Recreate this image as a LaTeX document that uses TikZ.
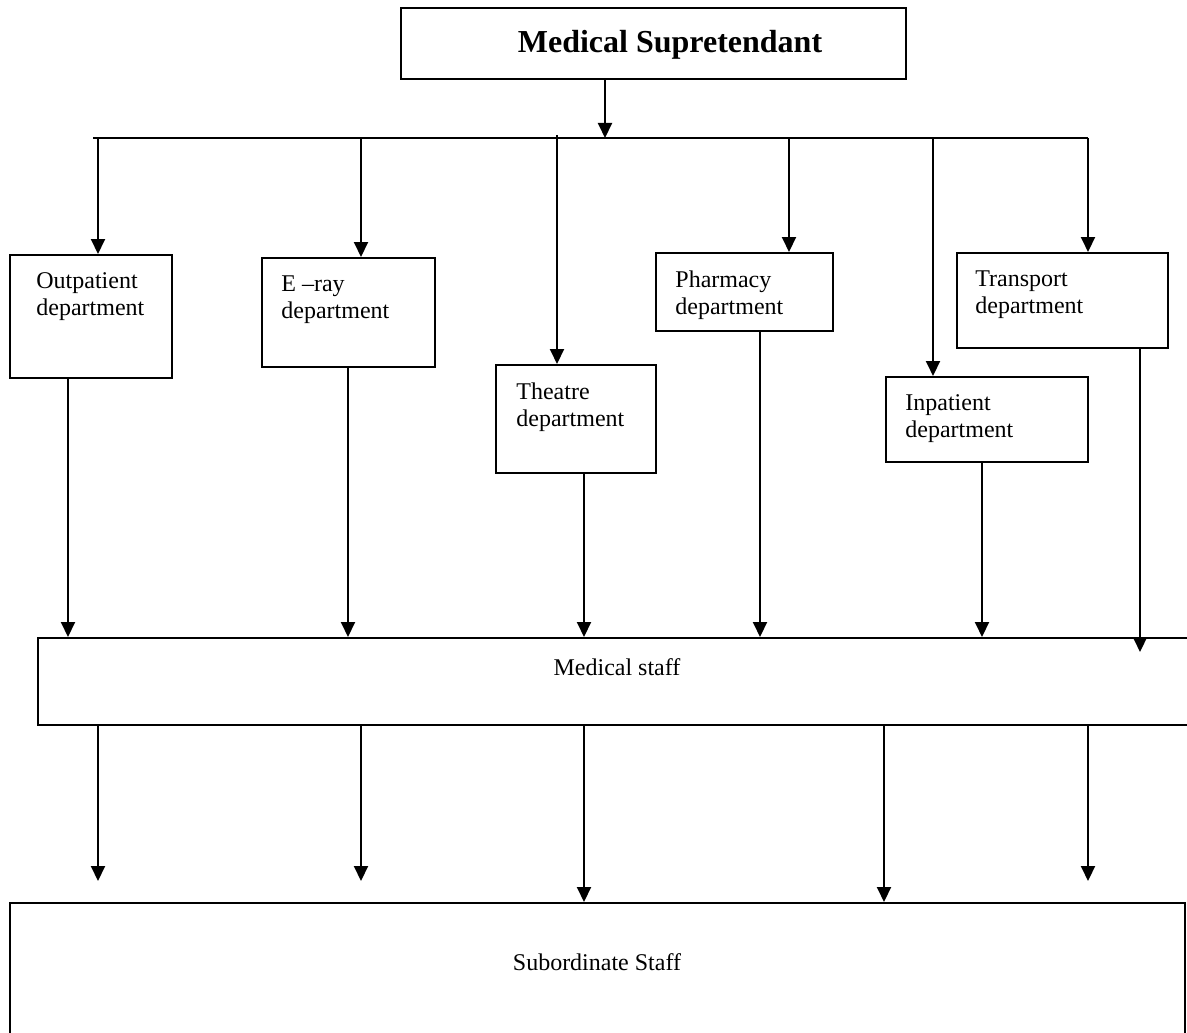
\documentclass[tikz,border=0pt]{standalone}
\usepackage{fontspec}
\setmainfont{Liberation Serif}
\usetikzlibrary{positioning,arrows.meta}

\begin{document}
\begin{tikzpicture}[x=0.5pt,y=-0.5pt]

\tikzstyle{blockbox}=[draw, line width=1pt, inner sep=0pt]
\tikzstyle{texto}=[anchor=north west, inner sep=0pt, align=left, font=\fontsize{12}{13.5}\selectfont]
\tikzstyle{plain}=[inner sep=0pt, font=\fontsize{12}{13.5}\selectfont]
\tikzstyle{link}=[line width=1pt, -{Triangle[length=7.5pt,width=7pt]}]

% box with its label in the upper left corner
\newcommand{\deptbox}[7]{%
\path (#2,#3) node (#1) [blockbox, minimum width=#4*0.5pt, minimum height=#5*0.5pt] {};
\path (#1.north west) + (#6,18) node (#1t) [texto] {#7};}

\useasboundingbox (0,0) rectangle (1187,1032);

\path (653.5,43.5) node (ms) [blockbox, minimum width=252.5pt, minimum height=35.5pt] {};
\path (670,45) node (mst) [inner sep=0pt] {\fontsize{16}{19}\selectfont\bfseries Medical Supretendant};

\deptbox{op}{91}{316.5}{162}{123}{27}{Outpatient\\department}
\deptbox{xr}{348.5}{312.5}{173}{109}{20}{E –ray\\department}
\deptbox{th}{576}{419}{160}{108}{21}{Theatre\\department}
\deptbox{ph}{744.5}{292}{177}{78}{20}{Pharmacy\\department}
\deptbox{ip}{987}{419.5}{202}{85}{20}{Inpatient\\department}
\deptbox{tr}{1062.5}{300.5}{211}{95}{19}{Transport\\department}

\path (616,681.5) node (staff) [blockbox, minimum width=578pt, minimum height=43.5pt] {};
\path (617,667) node (stafft) [plain] {Medical staff};
\path (597.5,974) node (sub) [blockbox, minimum width=587.5pt, minimum height=71pt] {};
\path (597,962) node (subt) [plain] {Subordinate Staff};

% bus under the superintendent
\coordinate (busl) at (93,138);
\coordinate (busr) at (1088,138);
\coordinate (b0) at (605,138);
\draw[line width=1pt] (busl) -- (busr);
\draw[link] (ms.south -| b0) -- (b0);

\coordinate (b1) at (98,138);
\coordinate (b2) at (361,138);
\coordinate (b3) at (557,135);
\coordinate (b4) at (789,138);
\coordinate (b5) at (933,138);
\coordinate (b6) at (1088,138);
\draw[link] (b1) -- (b1 |- op.north);
\draw[link] (b2) -- (b2 |- xr.north);
\draw[link] (b3) -- (b3 |- th.north);
\draw[link] (b4) -- (b4 |- ph.north);
\draw[link] (b5) -- (b5 |- ip.north);
\draw[link] (b6) -- (b6 |- tr.north);

% departments down to medical staff
\coordinate (d1) at (68,0);
\coordinate (d2) at (348,0);
\coordinate (d3) at (584,0);
\coordinate (d4) at (760,0);
\coordinate (d5) at (982,0);
\coordinate (d6) at (1140,652);
\draw[link] (op.south -| d1) -- (staff.north -| d1);
\draw[link] (xr.south -| d2) -- (staff.north -| d2);
\draw[link] (th.south -| d3) -- (staff.north -| d3);
\draw[link] (ph.south -| d4) -- (staff.north -| d4);
\draw[link] (ip.south -| d5) -- (staff.north -| d5);
\draw[link] (tr.south -| d6) -- (d6);

% medical staff down to subordinate staff
\coordinate (e1) at (98,881);
\coordinate (e2) at (361,881);
\coordinate (e3) at (584,0);
\coordinate (e4) at (884,0);
\coordinate (e5) at (1088,881);
\draw[link] (staff.south -| e1) -- (e1);
\draw[link] (staff.south -| e2) -- (e2);
\draw[link] (staff.south -| e3) -- (sub.north -| e3);
\draw[link] (staff.south -| e4) -- (sub.north -| e4);
\draw[link] (staff.south -| e5) -- (e5);

\end{tikzpicture}
\end{document}
